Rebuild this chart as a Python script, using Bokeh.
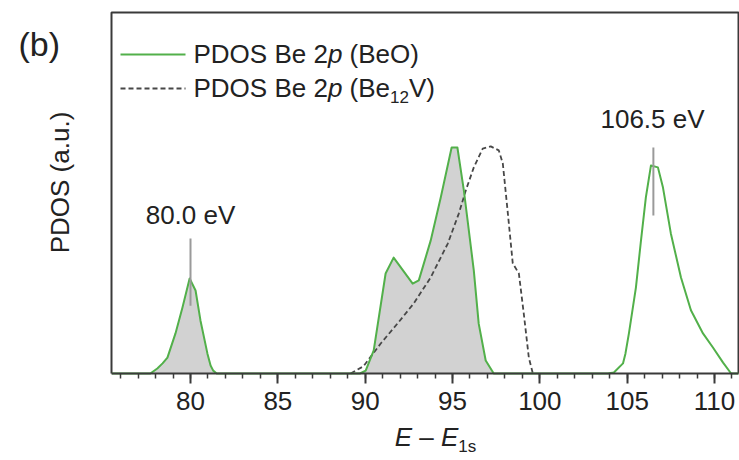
import numpy as np
from bokeh.plotting import figure
from bokeh.models import Range1d, Label, FixedTicker
from bokeh.embed import file_html
from bokeh.resources import INLINE

# ---------------- data ----------------
beo_x = [75.5, 77.7, 78.1, 78.4, 78.68, 79.14, 79.54, 79.95, 80.29, 80.57, 80.97, 81.15, 81.3, 81.5,
         89.7, 90.03, 90.49, 91.17, 91.63, 92.72, 93.07, 93.75, 94.33, 94.95, 95.28,
         95.65, 96.22, 96.5, 96.9, 97.36,
         103.9, 104.24, 104.76, 104.9, 105.1, 105.5, 105.79, 106.07, 106.36, 106.76, 107.05,
         107.5, 108.08, 108.65, 109.34, 109.91, 110.49, 110.95, 111.37]
beo_y = [0, 0, 0.014, 0.028, 0.044, 0.111, 0.183, 0.263, 0.23, 0.147, 0.055, 0.022, 0.008, 0,
         0, 0.008, 0.064, 0.277, 0.321, 0.249, 0.258, 0.368, 0.488, 0.626, 0.626,
         0.507, 0.285, 0.138, 0.036, 0,
         0, 0.003, 0.028, 0.055, 0.111, 0.238, 0.368, 0.488, 0.576, 0.571, 0.515,
         0.388, 0.266, 0.175, 0.111, 0.072, 0.03, 0, 0]

be12v_x = [89.17, 89.9, 90.89, 91.86, 92.78, 93.75, 94.73, 95.36, 95.76, 96.22, 96.73,
           97.19, 97.65, 97.88, 98.17, 98.45, 98.8, 99.08, 99.37, 99.6]
be12v_y = [0, 0.02, 0.083, 0.139, 0.194, 0.266, 0.36, 0.443, 0.507, 0.571, 0.623,
           0.629, 0.618, 0.582, 0.443, 0.305, 0.277, 0.166, 0.044, 0]

fill_limit = 100.0           # grey fill only under the 80 eV and 90-97 eV features
peak_energies = [80.0, 106.5]
peak_labels = ["80.0 eV", "106.5 eV"]
marker_low = [0.188, 0.438]
marker_high = [0.374, 0.626]

x_ticks = [80, 85, 90, 95, 100, 105, 110]
x_minor = list(range(76, 112))

# ---------------- layout ----------------
W, H = 739, 460
L, R, T, B = 111, 738, 12, 373          # plot box in canvas pixels
PX_PER_UNIT = 17.467
X0 = 80 - (190 - L) / PX_PER_UNIT        # data x at box left
X1 = 110 + (R - 714) / PX_PER_UNIT       # data x at box right
CX0 = 80 - 190 / PX_PER_UNIT             # data x at canvas left
CX1 = 80 + (W - 190) / PX_PER_UNIT       # data x at canvas right
CY0 = -(H - B) / (B - T)                 # data y at canvas bottom
CY1 = B / (B - T)                        # data y at canvas top
FONT = "Liberation Sans"
GREEN = "#52b04a"
INK = "#222222"
FRAME = "#3a3a3a"
DASH = "#474747"

p = figure(width=W, height=H, output_backend="svg", toolbar_location=None,
           x_range=Range1d(CX0, CX1), y_range=Range1d(CY0, CY1),
           min_border=0, min_border_left=0, min_border_right=0,
           min_border_top=0, min_border_bottom=0)
p.title.visible = False
p.grid.visible = False
p.yaxis.visible = False
p.outline_line_color = None
p.background_fill_color = "white"
p.border_fill_color = "white"

ax = p.xaxis[0]
ax.fixed_location = 0
ax.bounds = (X0, X1)
ax.ticker = FixedTicker(ticks=x_ticks, minor_ticks=x_minor)
ax.axis_line_color = FRAME
ax.axis_line_width = 2
ax.major_tick_in = 0
ax.major_tick_out = 10
ax.minor_tick_in = 0
ax.minor_tick_out = 5
ax.major_tick_line_color = FRAME
ax.minor_tick_line_color = FRAME
ax.major_tick_line_width = 2
ax.minor_tick_line_width = 1.5
ax.major_label_text_font = FONT
ax.major_label_text_font_size = "26px"
ax.major_label_text_color = INK
ax.major_label_standoff = 8

# plot box (left, top, right)
p.line([X0, X0, X1, X1], [0, 1, 1, 0], line_color=FRAME, line_width=2)

bx = np.array(beo_x)
by = np.array(beo_y)
fy = np.where(bx < fill_limit, by, 0.0)
p.varea(x=bx, y1=np.zeros_like(fy), y2=fy, fill_color="#d2d2d2")
p.line(be12v_x, be12v_y, line_color=DASH, line_width=1.8, line_dash="5 3",
       line_join="round")
p.line(beo_x, beo_y, line_color=GREEN, line_width=2, line_join="round")

for e, lo, hi in zip(peak_energies, marker_low, marker_high):
    p.segment(x0=[e], y0=[lo], x1=[e], y1=[hi], line_color="#9a9a9a", line_width=2)


def dx(px):
    return X0 + (px - L) / (R - L) * (X1 - X0)


def dy(py):
    return (B - py) / (B - T)


# Arial / Liberation Sans advance widths (per 1000 em)
WID = {" ": 278, "(": 333, ")": 333, ".": 278, "–": 556, "−": 584,
       "A": 667, "B": 667, "D": 722, "E": 667, "O": 778, "P": 667, "S": 667, "V": 667,
       "a": 556, "e": 556, "p": 556, "s": 500, "u": 556}


def width(s, size):
    return sum(WID.get(c, 556) for c in s) * size / 1000.0


def rich(pieces, x_px, center_px, align="left"):
    """pieces: (text, size, style, baseline shift px). center_px = centre of capitals."""
    total = sum(width(s, sz) for s, sz, _, _ in pieces)
    x = x_px - (total / 2 if align == "center" else 0)
    base = center_px + 9
    for s, sz, style, shift in pieces:
        core = s.strip()
        lead = len(s) - len(s.lstrip())
        p.add_layout(Label(x=dx(x + width(" " * lead, sz)), y=dy(base + shift - 0.36 * sz),
                           text=core, text_align="left", text_baseline="alphabetic",
                           text_font=FONT, text_font_size=f"{sz}px", text_font_style=style,
                           text_color=INK))
        x += width(s, sz)


# peak labels
rich([(peak_labels[0], 26, "normal", 0)], 190, 215, align="center")
rich([(peak_labels[1], 26, "normal", 0)], 652, 119, align="center")

# legend
leg_x0, leg_x1 = 120, 185
p.line([dx(leg_x0), dx(leg_x1)], [dy(54), dy(54)], line_color=GREEN, line_width=2)
p.line([dx(leg_x0), dx(leg_x1)], [dy(88), dy(88)], line_color=DASH, line_width=1.8,
       line_dash="5 3")
rich([("PDOS Be 2", 26, "normal", 0), ("p", 26, "italic", 0), (" (BeO)", 26, "normal", 0)],
     193, 54)
rich([("PDOS Be 2", 26, "normal", 0), ("p", 26, "italic", 0), (" (Be", 26, "normal", 0),
      ("12", 17, "normal", 6), ("V)", 26, "normal", 0)], 193, 88)

# axis title
rich([("E", 26, "italic", 0), (" – ", 26, "normal", 0), ("E", 26, "italic", 0),
      ("1s", 17, "normal", 6)], 435, 437, align="center")

# y label
p.add_layout(Label(x=dx(60), y=dy(182), text="PDOS (a.u.)", angle=np.pi / 2,
                   text_align="center", text_baseline="middle", text_font=FONT,
                   text_font_size="26px", text_color=INK))

# panel letter
p.add_layout(Label(x=dx(18), y=dy(43), text="(b)", text_align="left",
                   text_baseline="middle", text_font=FONT, text_font_size="34px",
                   text_color=INK))

open("out.html", "w").write(file_html(p, INLINE))
